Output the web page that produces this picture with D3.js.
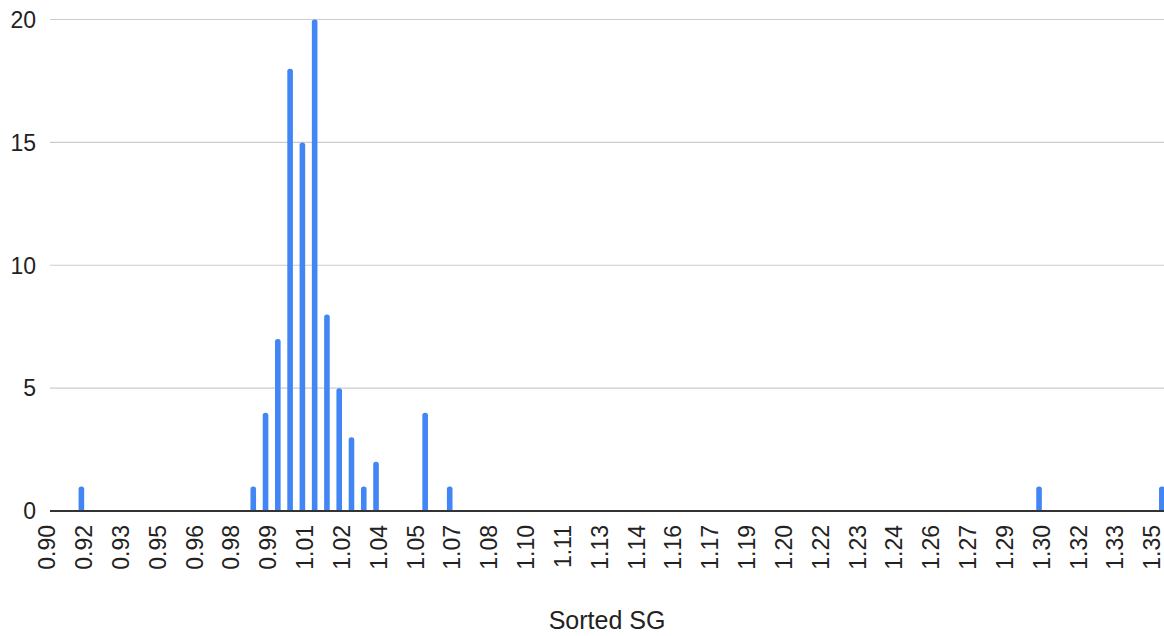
<!DOCTYPE html>
<html>
<head>
<meta charset="utf-8">
<script src="https://cdn.jsdelivr.net/npm/d3@7"></script>
<style>
  body { margin: 0; background: #fff; }
  svg { display: block; font-family: "Liberation Sans", Arial, sans-serif; }
</style>
</head>
<body>
<script>
const width = 1164;
const height = 636;
const plotLeft = 50;
const plotRight = 1164;

// bucket centres (SG) and how many samples fall in each
const sgValues = [0.914, 0.984, 0.989, 0.994, 0.999, 1.004, 1.009, 1.014, 1.019, 1.024, 1.029, 1.034, 1.054, 1.064, 1.304, 1.354];
const counts   = [1, 1, 4, 7, 18, 15, 20, 8, 5, 3, 1, 2, 4, 1, 1, 1];

const xTickValues = [0.900, 0.915, 0.930, 0.945, 0.960, 0.975, 0.990, 1.005, 1.020, 1.035, 1.050, 1.065, 1.080, 1.095, 1.110,
                     1.125, 1.140, 1.155, 1.170, 1.185, 1.200, 1.215, 1.230, 1.245, 1.260, 1.275, 1.290, 1.305, 1.320, 1.335, 1.350];
const xTickLabels = ["0.90", "0.92", "0.93", "0.95", "0.96", "0.98", "0.99", "1.01", "1.02", "1.04", "1.05", "1.07", "1.08", "1.10", "1.11",
                     "1.13", "1.14", "1.16", "1.17", "1.19", "1.20", "1.22", "1.23", "1.24", "1.26", "1.27", "1.29", "1.30", "1.32", "1.33", "1.35"];
const yTickValues = [0, 5, 10, 15, 20];

const xScale = d3.scaleLinear().domain([0.90, 1.35]).range([47, 1152]);
const yScale = d3.scaleLinear().domain([0, 20]).range([511, 19.5]);

const svg = d3.select("body").append("svg")
    .attr("width", width).attr("height", height);

// gridlines
svg.append("g").selectAll("line").data(yTickValues.filter(d => d > 0)).enter().append("line")
    .attr("x1", plotLeft).attr("x2", plotRight)
    .attr("y1", d => yScale(d)).attr("y2", d => yScale(d))
    .attr("stroke", "#cccccc").attr("stroke-width", 1.2);

// y axis labels
svg.append("g").selectAll("text").data(yTickValues).enter().append("text")
    .attr("x", 36).attr("y", d => yScale(d)).attr("dy", "0.36em")
    .attr("text-anchor", "end").attr("font-size", 23).attr("fill", "#222")
    .text(d => d);

// bars with rounded tops
const barW = 5.6;
const r = 2.6;
svg.append("g").selectAll("path").data(sgValues).enter().append("path")
    .attr("fill", "#4285f4")
    .attr("d", (d, i) => {
        const x = xScale(d) - barW / 2;
        const y0 = yScale(0);
        const y1 = yScale(counts[i]);
        return `M${x},${y0}V${y1 + r}Q${x},${y1} ${x + r},${y1}H${x + barW - r}Q${x + barW},${y1} ${x + barW},${y1 + r}V${y0}Z`;
    });

// baseline
svg.append("line")
    .attr("x1", plotLeft).attr("x2", plotRight)
    .attr("y1", yScale(0)).attr("y2", yScale(0))
    .attr("stroke", "#333333").attr("stroke-width", 2);

// x axis labels, rotated
svg.append("g").selectAll("text").data(xTickValues).enter().append("text")
    .attr("transform", d => `translate(${xScale(d)},525) rotate(-90)`)
    .attr("dy", "0.36em")
    .attr("text-anchor", "end").attr("font-size", 23).attr("fill", "#222")
    .text((d, i) => xTickLabels[i]);

// axis title
svg.append("text")
    .attr("x", (plotLeft + plotRight) / 2).attr("y", 629)
    .attr("text-anchor", "middle").attr("font-size", 25).attr("fill", "#222")
    .text("Sorted SG");
</script>
</body>
</html>
